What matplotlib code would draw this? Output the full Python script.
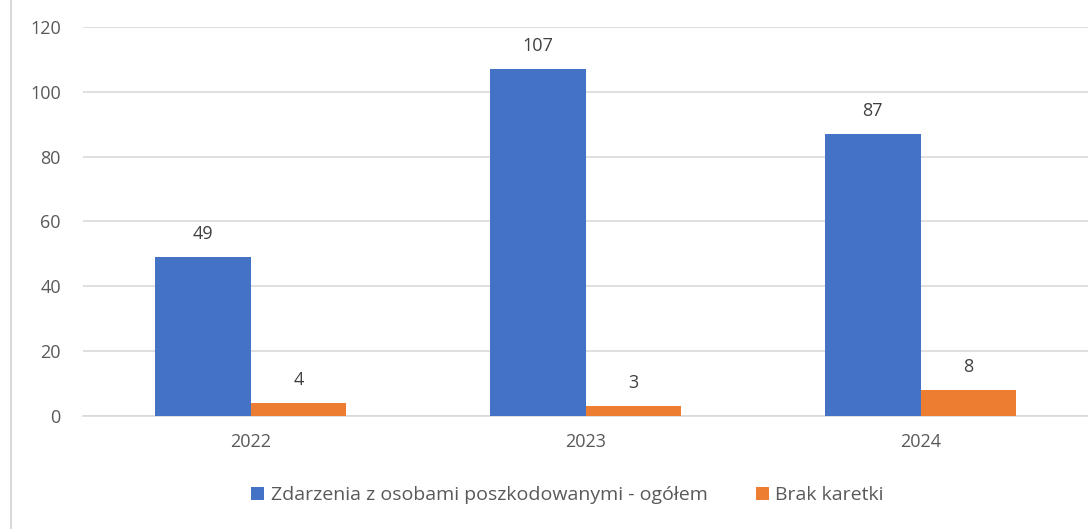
import matplotlib.pyplot as plt
import numpy as np
from matplotlib.lines import Line2D

years = ["2022", "2023", "2024"]
zdarzenia = [49, 107, 87]
brak_karetki = [4, 3, 8]

series_names = ["Zdarzenia z osobami poszkodowanymi - ogółem", "Brak karetki"]
colors = ["#4472C4", "#ED7D31"]
text_color = "#595959"

plt.rcParams['font.family'] = ['Open Sans', 'DejaVu Sans']

fig = plt.figure(figsize=(10.88, 5.29), dpi=100)
ax = fig.add_axes([0.0763, 0.2136, 0.9237, 0.7354])

x = np.arange(len(years))
w = 0.286

bars1 = ax.bar(x - w / 2, zdarzenia, w, color=colors[0], label=series_names[0], zorder=3)
bars2 = ax.bar(x + w / 2, brak_karetki, w, color=colors[1], label=series_names[1], zorder=3)

for bars in (bars1, bars2):
    for b in bars:
        ax.annotate(str(int(b.get_height())), (b.get_x() + b.get_width() / 2, b.get_height()),
                    xytext=(0, 10), textcoords="offset points", ha="center", va="bottom",
                    fontsize=13, color="#404040")

ax.set_xlim(-0.5, 2.5)
ax.set_ylim(0, 120)
ax.set_yticks(range(0, 121, 20))
ax.set_xticks(x)
ax.set_xticklabels(years)
ax.grid(axis='y', color="#d9d9d9", linewidth=1.2, zorder=0)
ax.set_axisbelow(True)
for s in ["top", "right", "left"]:
    ax.spines[s].set_visible(False)
ax.spines["bottom"].set_color("#d9d9d9")
ax.spines["bottom"].set_linewidth(1.2)
ax.tick_params(axis='both', length=0, labelsize=13, labelcolor=text_color)
ax.tick_params(axis='y', pad=16)
ax.tick_params(axis='x', pad=12)

fig.legend(loc="center", bbox_to_anchor=(0.5216, 0.064), ncol=2, frameon=False,
           fontsize=14, labelcolor=text_color, handlelength=0.65, handleheight=0.65,
           handletextpad=0.35, columnspacing=2.5)

fig.add_artist(Line2D([0.0105, 0.0105], [0, 1], transform=fig.transFigure, color="#d9d9d9", linewidth=1.5))

fig.savefig("out.png", dpi=100)
